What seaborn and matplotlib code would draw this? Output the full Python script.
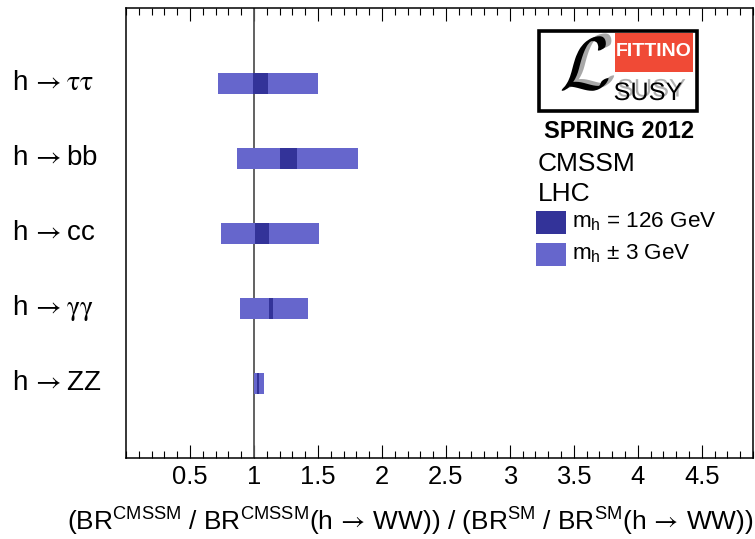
import numpy as np
import pandas as pd
import matplotlib
matplotlib.use("Agg")
import matplotlib.pyplot as plt
import matplotlib.transforms as mtransforms
import matplotlib.patheffects as pe
from matplotlib import font_manager
from matplotlib.patches import Rectangle
from matplotlib.ticker import MultipleLocator, FixedLocator
import seaborn as sns

# ---------------- data ----------------
categories = ["h → ττ", "h → bb", "h → cc", "h → γγ", "h → ZZ"]
category_tex = [r"h$\,\mathsf{\rightarrow}\mathtt{ττ}$",
                r"h$\,\mathsf{\rightarrow}$bb",
                r"h$\,\mathsf{\rightarrow}$cc",
                r"h$\,\mathsf{\rightarrow}\mathtt{γγ}$",
                r"h$\,\mathsf{\rightarrow}$ZZ"]
band_lo = [0.72, 0.87, 0.74, 0.89, 1.00]      # m_h ± 3 GeV range
band_hi = [1.50, 1.81, 1.51, 1.42, 1.08]
central_lo = [0.99, 1.20, 1.01, 1.12, 1.025]  # m_h = 126 GeV range
central_hi = [1.11, 1.34, 1.12, 1.15, 1.04]
xtick_values = [0.5, 1, 1.5, 2, 2.5, 3, 3.5, 4, 4.5]
xtick_labels = ["0.5", "1", "1.5", "2", "2.5", "3", "3.5", "4", "4.5"]

LIGHT = "#6666cc"
DARK = "#333399"

sns.set_theme(style="ticks")
plt.rcParams["font.family"] = ["Liberation Sans", "DejaVu Sans"]
plt.rcParams["text.color"] = "black"
plt.rcParams["axes.labelcolor"] = "black"
plt.rcParams["xtick.color"] = "black"
plt.rcParams["xtick.labelcolor"] = "black"
plt.rcParams["mathtext.fontset"] = "custom"
plt.rcParams["mathtext.rm"] = "Liberation Sans"
plt.rcParams["mathtext.it"] = "Liberation Sans:italic"
plt.rcParams["mathtext.bf"] = "Liberation Sans:bold"
plt.rcParams["mathtext.sf"] = "STIXGeneral"
plt.rcParams["mathtext.tt"] = "STIXGeneral"

font_names = {f.name for f in font_manager.fontManager.ttflist}
HAS_NARROW = "Liberation Sans Narrow" in font_names

W, H = 755, 539
fig = plt.figure(figsize=(W / 100, H / 100), dpi=100)
ax = fig.add_axes([126 / W, 81 / H, 627 / W, 450 / H])


def fx(x):
    return x / W


def fy(y):
    return 1 - y / H


df = pd.DataFrame({
    "decay": categories,
    "band_lo": band_lo,
    "band_width": np.subtract(band_hi, band_lo),
    "central_lo": central_lo,
    "central_width": np.subtract(central_hi, central_lo),
})

ax.axvline(1, color="#555555", lw=1.3, zorder=1)
sns.barplot(data=df, y="decay", x="band_width", order=categories,
            left=df["band_lo"].values, color=LIGHT, saturation=1,
            width=0.28, errorbar=None, linewidth=0, ax=ax, zorder=2)
sns.barplot(data=df, y="decay", x="central_width", order=categories,
            left=df["central_lo"].values, color=DARK, saturation=1,
            width=0.28, errorbar=None, linewidth=0, ax=ax, zorder=3)

ax.set_xlim(0, 4.9)
ax.set_ylim(5, -1)
ax.set_yticks([])
ax.set_ylabel("")
ax.xaxis.set_major_locator(FixedLocator(xtick_values))
ax.set_xticklabels(xtick_labels, fontsize=18.4, color="black")
ax.xaxis.set_minor_locator(MultipleLocator(0.1))
ax.tick_params(axis="x", which="both", direction="in", top=True, bottom=True,
               color="black", width=0.8, pad=5)
ax.tick_params(axis="x", which="major", length=9.5)
ax.tick_params(axis="x", which="minor", length=5)
for s in ax.spines.values():
    s.set_visible(True)
    s.set_color("black")
    s.set_linewidth(1.1)

ax.set_xlabel(
    r"(BR$^{\rm CMSSM}$ / BR$^{\rm CMSSM}$(h$\,\mathsf{\rightarrow}\,$WW)) / "
    r"(BR$^{\rm SM}$ / BR$^{\rm SM}$(h$\,\mathsf{\rightarrow}\,$WW))",
    fontsize=18.9, loc="right", labelpad=12, color="black")

# category labels on the left
trans = mtransforms.blended_transform_factory(fig.transFigure, ax.transData)
for i, c in enumerate(category_tex):
    fig.text(fx(12), i, c, transform=trans, ha="left", va="center", fontsize=20)

# ---------------- logo ----------------
fig.add_artist(Rectangle((fx(539), fy(111)), (697 - 539) / W, (111 - 31) / H,
                         transform=fig.transFigure, facecolor="white",
                         edgecolor="black", linewidth=2.6, zorder=5))
fig.add_artist(Rectangle((fx(615), fy(72)), (693 - 615) / W, (72 - 33) / H,
                         transform=fig.transFigure, facecolor="#f04a36",
                         edgecolor="none", zorder=6))
if HAS_NARROW:
    fig.text(fx(654), fy(52), "FITTINO", color="white", fontsize=17,
             fontweight="bold", ha="center", va="center",
             family="Liberation Sans Narrow", zorder=7)
else:
    fig.text(fx(654), fy(52), "FITTINO", color="white", fontsize=14,
             fontweight="bold", ha="center", va="center", zorder=7)
# script L with a grey shadow
fig.text(fx(585), fy(70), r"$\mathcal{L}$", math_fontfamily="cm", fontsize=54,
         color="black", ha="center", va="center", zorder=8,
         path_effects=[pe.withSimplePatchShadow(offset=(4, 2), shadow_rgbFace="#a8a8a8",
                                                alpha=1)])
fig.text(fx(648), fy(93), "SUSY", color="black", fontsize=18.2, ha="center",
         va="center", zorder=8,
         path_effects=[pe.withSimplePatchShadow(offset=(2.5, 2.5), shadow_rgbFace="#b0b0b0",
                                                alpha=1)])
fig.text(fx(619), fy(131), "SPRING 2012", fontsize=17, fontweight="bold",
         ha="center", va="center", zorder=7)

# ---------------- legend ----------------
fig.text(fx(538), fy(164), "CMSSM", fontsize=19, ha="left", va="center")
fig.text(fx(538), fy(194), "LHC", fontsize=19, ha="left", va="center")
fig.add_artist(Rectangle((fx(536), fy(234)), 30 / W, 23 / H,
                         transform=fig.transFigure, facecolor=DARK, edgecolor="none"))
fig.add_artist(Rectangle((fx(536), fy(266)), 30 / W, 23 / H,
                         transform=fig.transFigure, facecolor=LIGHT, edgecolor="none"))
fig.text(fx(572), fy(222), r"m$_{\rm h}$ = 126 GeV", fontsize=16.2, ha="left", va="center")
fig.text(fx(572), fy(254), r"m$_{\rm h}$ ± 3 GeV", fontsize=16.2, ha="left", va="center")

fig.savefig("out.png", dpi=100)
